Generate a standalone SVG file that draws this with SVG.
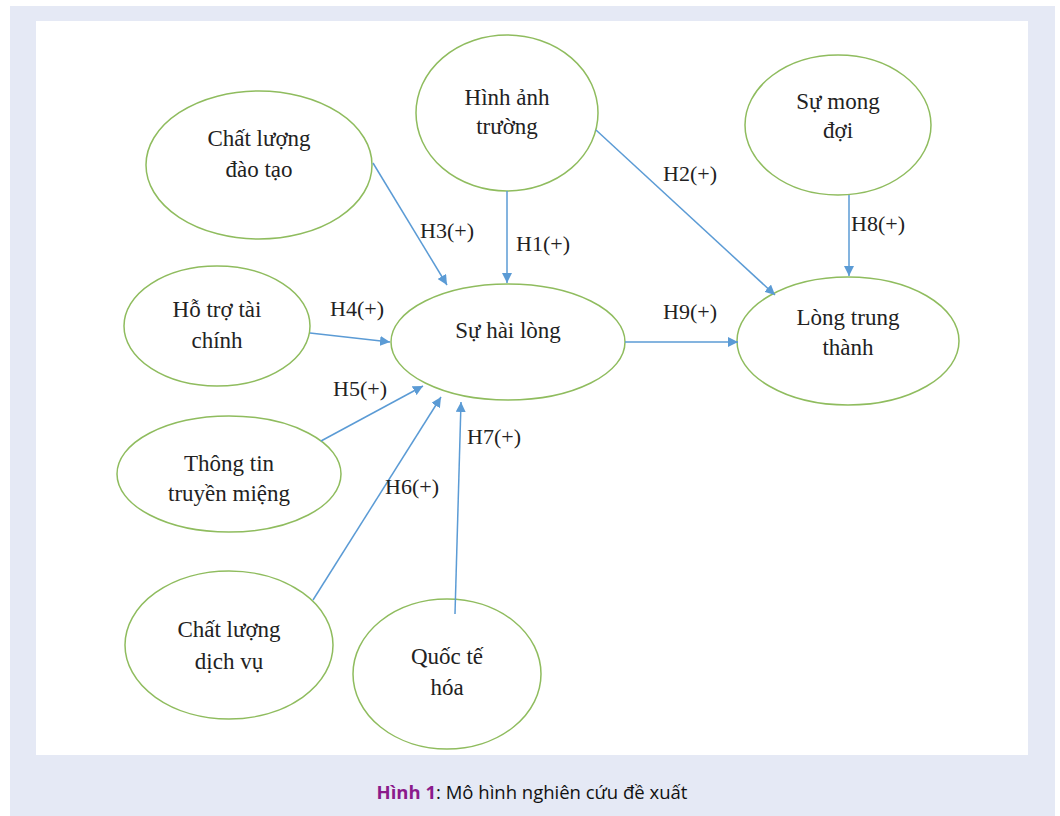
<svg xmlns="http://www.w3.org/2000/svg" width="1060" height="816" viewBox="0 0 1060 816">
<defs>
<marker id="ah" viewBox="0 0 10 10" refX="10" refY="5" markerWidth="10" markerHeight="10" markerUnits="userSpaceOnUse" orient="auto">
<path d="M0,0 L10,5 L0,10 z" fill="#5b9bd5"/>
</marker>
<style>
.n{fill:#fff;stroke:#8fbc5e;stroke-width:1.5}
.t{font-family:"Liberation Serif",serif;font-size:23px;fill:#222;text-anchor:middle}
.l{font-family:"Liberation Serif",serif;font-size:22px;fill:#222;text-anchor:middle}
.c line{stroke:#5b9bd5;stroke-width:1.5;marker-end:url(#ah)}
</style>
</defs>
<rect x="0" y="0" width="1060" height="816" fill="#fff"/>
<rect x="10" y="6" width="1045" height="810" fill="#e5e9f5"/>
<rect x="36" y="21" width="992" height="734" fill="#fff"/>
<g id="n1"><ellipse class="n" cx="259" cy="165" rx="113" ry="74"/><text class="t" x="259" y="146">Chất lượng</text><text class="t" x="259" y="177">đào tạo</text></g>
<g id="n2"><ellipse class="n" cx="507" cy="113" rx="91" ry="78"/><text class="t" x="507" y="105">Hình ảnh</text><text class="t" x="507" y="134">trường</text></g>
<g id="n3"><ellipse class="n" cx="838" cy="125" rx="93" ry="70"/><text class="t" x="838" y="109">Sự mong</text><text class="t" x="838" y="138">đợi</text></g>
<g id="n4"><ellipse class="n" cx="217" cy="326" rx="93" ry="60"/><text class="t" x="217" y="317">Hỗ trợ tài</text><text class="t" x="217" y="348">chính</text></g>
<g id="n5"><ellipse class="n" cx="508" cy="342" rx="117" ry="58"/><text class="t" x="508" y="338">Sự hài lòng</text></g>
<g id="n6"><ellipse class="n" cx="848" cy="341" rx="111" ry="64"/><text class="t" x="848" y="325">Lòng trung</text><text class="t" x="848" y="355">thành</text></g>
<g id="n7"><ellipse class="n" cx="229" cy="474" rx="112" ry="58"/><text class="t" x="229" y="471">Thông tin</text><text class="t" x="229" y="501">truyền miệng</text></g>
<g id="n8"><ellipse class="n" cx="229" cy="645" rx="104" ry="74"/><text class="t" x="229" y="637">Chất lượng</text><text class="t" x="229" y="669">dịch vụ</text></g>
<g id="n9"><ellipse class="n" cx="447" cy="674" rx="94" ry="75"/><text class="t" x="447" y="664">Quốc tế</text><text class="t" x="447" y="695">hóa</text></g>
<g id="connectors" class="c">
<line x1="373" y1="163" x2="447" y2="285"/>
<line x1="507" y1="191" x2="507" y2="283"/>
<line x1="596" y1="130" x2="775" y2="295"/>
<line x1="849" y1="195" x2="849" y2="276"/>
<line x1="310" y1="333" x2="390" y2="342"/>
<line x1="625" y1="342" x2="738" y2="342"/>
<line x1="321" y1="441" x2="423" y2="386"/>
<line x1="313" y1="600" x2="441" y2="397"/>
<line x1="455" y1="614" x2="461" y2="402"/>
</g>
<g id="labels">
<text class="l" x="447" y="238">H3(+)</text>
<text class="l" x="543" y="251">H1(+)</text>
<text class="l" x="690" y="181">H2(+)</text>
<text class="l" x="878" y="231">H8(+)</text>
<text class="l" x="357" y="316">H4(+)</text>
<text class="l" x="690" y="319">H9(+)</text>
<text class="l" x="360" y="396">H5(+)</text>
<text class="l" x="412" y="494">H6(+)</text>
<text class="l" x="494" y="444">H7(+)</text>
</g>
<text x="532" y="799" style="font-family:'Open Sans','Noto Sans',sans-serif;font-size:18.5px;fill:#111;text-anchor:middle"><tspan style="font-weight:bold;fill:#8b1a8b">Hình 1</tspan>: Mô hình nghiên cứu đề xuất</text>
</svg>
